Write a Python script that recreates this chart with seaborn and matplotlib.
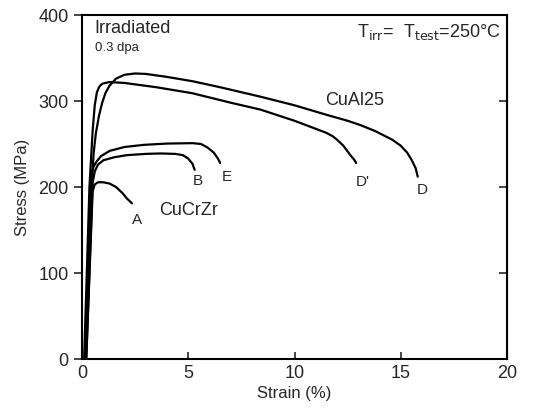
import numpy as np
import pandas as pd
import matplotlib
matplotlib.use("Agg")
import matplotlib.pyplot as plt
import seaborn as sns

# curvas tensao-deformacao
strain_D = [0.15, 0.3, 0.45, 0.55, 0.65, 0.8, 0.95, 1.1, 1.3, 1.6, 2.0, 2.5, 3.0, 4.0, 5.2, 6.5,
            8.4, 10.0, 11.5, 12.5, 13.1, 13.8, 14.6, 15.0, 15.3, 15.5, 15.7, 15.8]
stress_D = [0, 110, 200, 240, 262, 283, 298, 309, 318, 326, 330.5, 332, 331.5, 328, 323, 316,
            305, 295, 284, 277, 272, 265, 255, 248, 240, 232, 222, 212]

strain_Dp = [0.1, 0.35, 0.5, 0.6, 0.7, 0.8, 0.9, 1.0, 1.3, 2.0, 3.5, 5.2, 7.0, 8.4, 10.0,
             11.5, 11.8, 12.0, 12.3, 12.6, 12.8, 12.9]
stress_Dp = [0, 200, 265, 295, 310, 316, 319, 320.5, 322, 321, 316, 309, 298, 290, 277,
             263, 259, 255, 248, 238, 232, 228]

strain_E = [0.15, 0.45, 0.55, 0.7, 0.9, 1.3, 2.0, 2.9, 4.0, 5.2, 5.6, 5.9, 6.2, 6.4, 6.5]
stress_E = [0, 215, 224, 230, 236, 242, 246.5, 249, 250.5, 251, 250, 246, 240, 233, 228]

strain_B = [0.2, 0.5, 0.6, 0.75, 1.0, 1.5, 2.1, 3.0, 3.7, 4.4, 4.75, 5.0, 5.2, 5.3]
stress_B = [0, 205, 218, 226, 231, 234.5, 237, 238.5, 239, 238.5, 237, 233, 227, 220]

strain_A = [0.2, 0.5, 0.6, 0.75, 1.0, 1.3, 1.6, 1.9, 2.1, 2.35]
stress_A = [0, 195, 203, 205.5, 205.5, 204, 200, 193, 187, 181]

curves = {"D": (strain_D, stress_D), "D'": (strain_Dp, stress_Dp),
          "E": (strain_E, stress_E), "B": (strain_B, stress_B), "A": (strain_A, stress_A)}

# rotulos das curvas (posicao em strain, stress)
labels = {"A": (2.6, 162), "B": (5.45, 207), "E": (6.8, 212), "D'": (13.2, 206), "D": (16.0, 197),
          "CuCrZr": (5.0, 173), "CuAl25": (12.85, 301)}

sns.set_style("ticks")
plt.rcParams['font.family'] = ['Liberation Sans', 'DejaVu Sans']

fig = plt.figure(figsize=(5.4, 4.15), dpi=100)
ax = fig.add_axes([82/540, 56/415, 425/540, 344/415])

for name, (x, y) in curves.items():
    sns.lineplot(x=x, y=y, color='black', lw=1.6, sort=False, ax=ax)

for txt, (x, y) in labels.items():
    fs = 13 if txt.startswith('Cu') else 11
    ax.text(x, y, txt, fontsize=fs, ha='center', va='center')

ax.text(0.03, 0.985, 'Irradiated', transform=ax.transAxes, fontsize=13, va='top')
ax.text(0.03, 0.905, '0.3 dpa', transform=ax.transAxes, fontsize=9.5, va='center')
ax.text(0.985, 0.98, r'T$_{\rm irr}$=  T$_{\rm test}$=250°C', transform=ax.transAxes,
        fontsize=13, va='top', ha='right')

ax.set_xlim(0, 20)
ax.set_ylim(0, 400)
ax.set_xticks([0, 5, 10, 15, 20])
ax.set_yticks([0, 100, 200, 300, 400])
ax.tick_params(axis='x', direction='in', length=5, width=1.2, labelsize=13, pad=4)
ax.tick_params(axis='y', direction='out', length=6, width=1.2, labelsize=13)
for s in ax.spines.values():
    s.set_linewidth(1.5)
    s.set_color('black')

# marcas do lado direito para dentro
ax2 = ax.secondary_yaxis('right')
ax2.set_yticks([100, 200, 300])
ax2.tick_params(direction='in', length=6, width=1.2, labelright=False)

ax.set_xlabel('Strain (%)', fontsize=12, labelpad=3)
ax.set_ylabel('Stress (MPa)', fontsize=12, labelpad=6)

fig.savefig('out.png', dpi=100)
